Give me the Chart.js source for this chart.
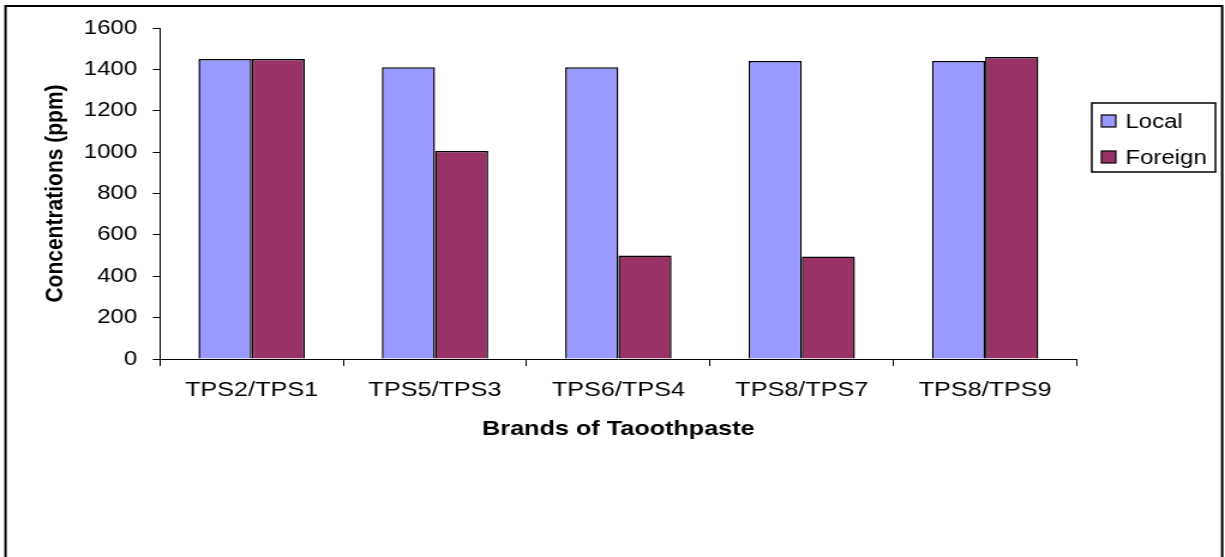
<!DOCTYPE html>
<html>
<head>
<meta charset="utf-8">
<script src="https://cdn.jsdelivr.net/npm/chart.js@4"></script>
<style>
  html, body { margin: 0; padding: 0; background: #fff; overflow: hidden; }
</style>
</head>
<body>
<!-- the picture is stretched sideways, so the canvas is drawn narrow and widened by css -->
<canvas id="chart" width="1021" height="557" style="display:block;width:1225px;height:557px"></canvas>
<script>
const categories = ["TPS2/TPS1", "TPS5/TPS3", "TPS6/TPS4", "TPS8/TPS7", "TPS8/TPS9"];
const localValues = [1450, 1410, 1410, 1440, 1440];
const foreignValues = [1450, 1005, 500, 495, 1460];
const seriesNames = ["Local", "Foreign"];
const yMin = 0;
const yMax = 1600;
const yStep = 200;

const FONT = "'Liberation Sans', Arial, sans-serif";

const frameAndLegend = {
  id: "frameAndLegend",
  beforeDraw(chart) {
    const ctx = chart.ctx;
    ctx.save();
    ctx.fillStyle = "#fff";
    ctx.fillRect(0, 0, chart.width, chart.height);
    ctx.strokeStyle = "#000";
    ctx.lineWidth = 2;
    ctx.strokeRect(4.6, 6, 1014, 620);
    ctx.restore();
  },
  afterDraw(chart) {
    const ctx = chart.ctx;
    ctx.save();
    ctx.strokeStyle = "#000";
    ctx.lineWidth = 1.5;
    ctx.strokeRect(910, 103, 103, 69);
    ctx.font = "20px " + FONT;
    ctx.textBaseline = "middle";
    chart.data.datasets.forEach((ds, i) => {
      const cy = 121 + i * 36;
      ctx.fillStyle = ds.backgroundColor;
      ctx.fillRect(918, cy - 6, 12, 12);
      ctx.lineWidth = 1.2;
      ctx.strokeRect(918, cy - 6, 12, 12);
      ctx.fillStyle = "#000";
      ctx.fillText(ds.label, 938, cy + 1);
    });
    ctx.restore();
  }
};

new Chart(document.getElementById("chart"), {
  type: "bar",
  data: {
    labels: categories,
    datasets: [
      {
        label: seriesNames[0],
        data: localValues,
        backgroundColor: "#9999FF",
        borderColor: "#000",
        borderWidth: 1.5,
        categoryPercentage: 0.58,
        barPercentage: 1
      },
      {
        label: seriesNames[1],
        data: foreignValues,
        backgroundColor: "#993366",
        borderColor: "#000",
        borderWidth: 1.5,
        categoryPercentage: 0.58,
        barPercentage: 1
      }
    ]
  },
  options: {
    responsive: false,
    animation: false,
    events: [],
    layout: { padding: { left: 34, right: 123.5, top: 28, bottom: 115 } },
    plugins: {
      legend: { display: false },
      tooltip: { enabled: false }
    },
    scales: {
      x: {
        grid: { drawOnChartArea: false, drawTicks: true, tickLength: 7, color: "#000", offset: true },
        border: { color: "#000", width: 1 },
        ticks: { color: "#000", font: { family: FONT, size: 21 }, padding: 12, maxRotation: 0, autoSkip: false },
        title: {
          display: true,
          text: "Brands of Taoothpaste",
          color: "#000",
          font: { family: FONT, size: 21, weight: "bold" },
          padding: { top: 4, bottom: 0 }
        },
        afterFit(scale) { scale.height = 83; }
      },
      y: {
        min: yMin,
        max: yMax,
        grid: { drawOnChartArea: false, drawTicks: true, tickLength: 6, color: "#000" },
        border: { color: "#000", width: 1 },
        ticks: {
          stepSize: yStep,
          color: "#000",
          font: { family: FONT, size: 20 },
          padding: 13,
          callback: (v) => String(v)
        },
        title: {
          display: true,
          text: "Concentrations (ppm)",
          color: "#000",
          font: { family: FONT, size: 21, weight: "bold" },
          padding: { top: 0, bottom: 0 }
        },
        afterFit(scale) { scale.width = 99.3; }
      }
    }
  },
  plugins: [frameAndLegend]
});
</script>
</body>
</html>
